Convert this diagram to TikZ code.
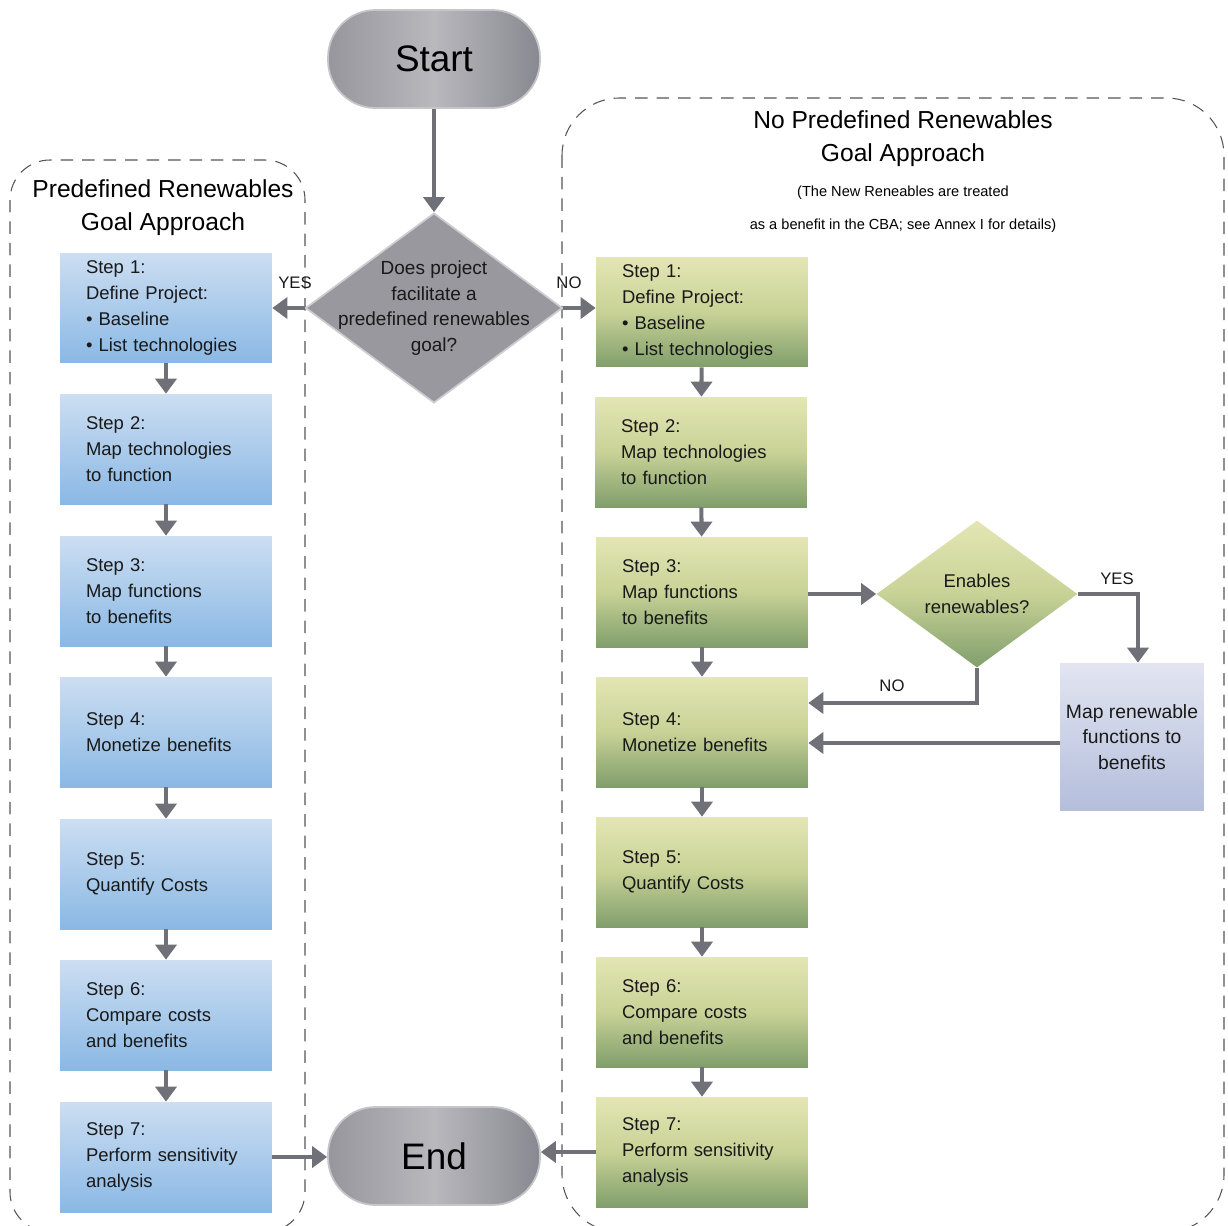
\documentclass[tikz,border=0pt]{standalone}
\usepackage{fontspec}
\setmainfont{Liberation Sans}
\usetikzlibrary{shapes.geometric, arrows.meta}
\definecolor{bluetop}{RGB}{204,222,242}
\definecolor{bluebot}{RGB}{138,184,228}
\definecolor{greentop}{RGB}{228,230,180}
\definecolor{greenmid}{RGB}{200,210,150}
\definecolor{greenbot}{RGB}{128,158,108}
\definecolor{lavtop}{RGB}{226,229,241}
\definecolor{lavbot}{RGB}{180,190,220}
\definecolor{greyl}{RGB}{150,150,156}
\definecolor{greym}{RGB}{184,184,189}
\definecolor{greyr}{RGB}{136,136,144}
\definecolor{diagrey}{RGB}{152,152,158}
\definecolor{arrowgrey}{RGB}{112,112,120}
\definecolor{dashgrey}{RGB}{85,85,85}
\definecolor{txt}{RGB}{25,25,25}
\hyphenpenalty=10000

\tikzset{
  stepbox/.style={rectangle, minimum width=4.24cm, minimum height=2.2cm,
    text width=3.2cm, inner xsep=0.52cm, align=left, text=txt,
    font=\fontsize{10.5}{14.7}\selectfont},
  bluebox/.style={stepbox, top color=bluetop, bottom color=bluebot},
  greenbox/.style={stepbox, top color=greentop, bottom color=greenbot, middle color=greenmid},
  termbox/.style={rectangle, rounded corners=0.95cm, minimum width=4.24cm, minimum height=1.96cm,
    left color=greyl, right color=greyr, middle color=greym, draw=greym!80!white, line width=1pt,
    font=\fontsize{21}{24}\selectfont},
  arr/.style={draw=arrowgrey, line width=2.3pt, -{Triangle[width=0.42cm,length=0.3cm]}},
  dashbox/.style={draw=dashgrey, line width=0.6pt, dash pattern=on 0.25cm off 0.18cm},
  lbl/.style={font=\fontsize{9.5}{11}\selectfont, text=txt, inner sep=0pt},
}

\begin{document}
\begin{tikzpicture}[x=0.02cm, y=-0.02cm]
  \useasboundingbox (0,0) rectangle (1228,1225);
  \clip (0,0) rectangle (1228,1225);

  % the two approaches
  \draw[dashbox, rounded corners=0.8cm] (10,160) rectangle (305,1232);
  \draw[dashbox, rounded corners=1.15cm] (562,98) rectangle (1224,1232);
  \node[align=center, font=\fontsize{14}{18.7}\selectfont] (ltitle) at (163,208)
    {Predefined Renewables\\Goal Approach};
  \node[align=center, font=\fontsize{14}{18.7}\selectfont] (rtitle) at (903,139)
    {No Predefined Renewables\\Goal Approach};
  \node[font=\fontsize{8.3}{10}\selectfont] (rsub1) at (903,193) {(The New Reneables are treated};
  \node[font=\fontsize{8.3}{10}\selectfont] (rsub2) at (903,226) {as a benefit in the CBA; see Annex I for details)};

  % start, end and first question
  \node[termbox] (start) at (434,59) {Start};
  \node[termbox] (end) at (434,1156) {End};
  \node[diamond, minimum width=5.14cm, minimum height=3.8cm, inner sep=0pt,
    fill=diagrey, draw=greym!70!white, line width=1pt] (q1) at (434,308) {};
  \node[align=center, text=txt, font=\fontsize{10.8}{14.7}\selectfont] (q1txt) at (q1)
    {Does project\\facilitate a\\predefined renewables\\goal?};

  % left column
  \node[bluebox] (l1) at (166,308)  {Step 1:\\Define Project:\\\textbullet~Baseline\\\textbullet~List technologies};
  \node[bluebox] (l2) at (166,449)  {Step 2:\\Map technologies\\to function};
  \node[bluebox] (l3) at (166,591)  {Step 3:\\Map functions\\to benefits};
  \node[bluebox] (l4) at (166,732)  {Step 4:\\Monetize benefits};
  \node[bluebox] (l5) at (166,874)  {Step 5:\\Quantify Costs};
  \node[bluebox] (l6) at (166,1015) {Step 6:\\Compare costs\\and benefits};
  \node[bluebox] (l7) at (166,1157) {Step 7:\\Perform sensitivity\\analysis};

  % right column
  \node[greenbox] (r1) at (702,312)  {Step 1:\\Define Project:\\\textbullet~Baseline\\\textbullet~List technologies};
  \node[greenbox] (r2) at (701,452)  {Step 2:\\Map technologies\\to function};
  \node[greenbox] (r3) at (702,592)  {Step 3:\\Map functions\\to benefits};
  \node[greenbox] (r4) at (702,732)  {Step 4:\\Monetize benefits};
  \node[greenbox] (r5) at (702,872)  {Step 5:\\Quantify Costs};
  \node[greenbox] (r6) at (702,1012) {Step 6:\\Compare costs\\and benefits};
  \node[greenbox] (r7) at (702,1152) {Step 7:\\Perform sensitivity\\analysis};

  \node[diamond, minimum width=4.02cm, minimum height=2.94cm, inner sep=0pt,
    top color=greentop, bottom color=greenbot, middle color=greenmid] (q2) at (977,594) {};
  \node[align=center, text=txt, font=\fontsize{10.5}{14.7}\selectfont] (q2txt) at (q2)
    {Enables\\renewables?};
  \node[rectangle, minimum width=2.88cm, minimum height=2.96cm, inner sep=0pt,
    top color=lavtop, bottom color=lavbot, align=center, text=txt,
    font=\fontsize{11}{14.7}\selectfont] (map) at (1132,737)
    {Map renewable\\functions to\\benefits};

  % connectors
  \draw[arr] (start) -- (q1);
  \draw[arr] (q1.west) -- (q1.west -| l1.east);
  \draw[arr] (q1.east) -- (q1.east -| r1.west);
  \foreach \i [count=\j from 2] in {1,...,6} {
    \draw[arr] (l\i) -- (l\j);
    \draw[arr] (r\i) -- (r\j);
  }
  \draw[arr] (r3.east |- q2.west) -- (q2.west);
  \draw[arr] (q2.east) -| ([xshift=0.12cm]map.north);
  \draw[arr] (q2.south) |- ([yshift=0.58cm]r4.east);
  \draw[arr] ([yshift=-0.12cm]map.west) -- ([yshift=-0.12cm]map.west -| r4.east);
  \draw[arr] (l7.east) -- (l7.east -| end.west);
  \draw[arr] (r7.west) -- (r7.west -| end.east);

  \node[lbl] (yes1) at (295,283) {YES};
  \node[lbl] (no1) at (569,283) {NO};
  \node[lbl] (yes2) at (1117,579) {YES};
  \node[lbl] (no2) at (892,686) {NO};
\end{tikzpicture}
\end{document}
